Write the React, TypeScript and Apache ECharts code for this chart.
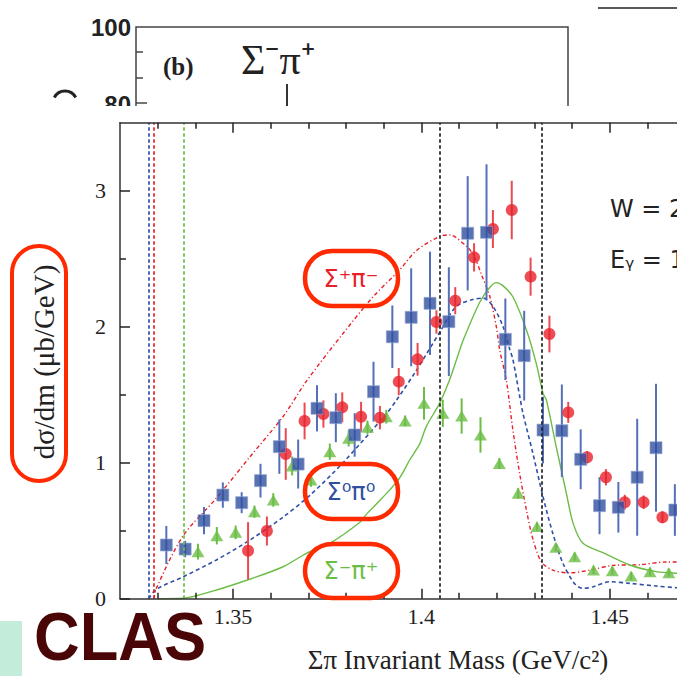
import React, { useEffect, useRef } from "react";
import * as echarts from "echarts";

// ---- axis ranges / ticks ----
const xMin = 1.32;
const xMax = 1.48;
const yMin = 0;
const yMax = 3.5;
const xMajorTicks = [1.35, 1.4, 1.45];
const xMinorTicks = [1.33, 1.34, 1.36, 1.37, 1.38, 1.39, 1.41, 1.42, 1.43, 1.44, 1.46, 1.47];
const yMajorTicks = [0, 1, 2, 3];
const yMinorTicks = [0.5, 1.5, 2.5];

// ---- vertical reference lines ----
const thresholdS0pi0 = 1.3276;
const thresholdSpPim = 1.329;
const thresholdSmPip = 1.337;
const kbarLines = [1.405, 1.432];

// ---- Σ0π0 data (blue squares) ----
const s0X = [1.3323, 1.3373, 1.3423, 1.3473, 1.3523, 1.3573, 1.3623, 1.3673, 1.3723, 1.3773, 1.3823, 1.3873, 1.3923, 1.3973, 1.4023, 1.4073, 1.4123, 1.4173, 1.4223, 1.4273, 1.4323, 1.4373, 1.4423, 1.4473, 1.4523, 1.4573, 1.4623, 1.4673];
const s0Y = [0.395, 0.365, 0.574, 0.762, 0.706, 0.868, 1.118, 0.99, 1.4, 1.331, 1.204, 1.522, 1.926, 2.069, 2.172, 2.037, 2.687, 2.694, 1.907, 1.787, 1.24, 1.235, 1.025, 0.684, 0.672, 0.893, 1.11, 0.652];
const s0Err = [0.14, 0.06, 0.1, 0.093, 0.077, 0.124, 0.2, 0.18, 0.17, 0.18, 0.16, 0.22, 0.23, 0.36, 0.38, 0.4, 0.42, 0.5, 0.3, 0.33, 0.245, 0.34, 0.22, 0.21, 0.186, 0.43, 0.47, 0.19];

// ---- Σ+π- data (red circles) ----
const spX = [1.354, 1.359, 1.364, 1.369, 1.374, 1.379, 1.384, 1.389, 1.394, 1.399, 1.404, 1.409, 1.414, 1.419, 1.424, 1.429, 1.434, 1.439, 1.444, 1.449, 1.454, 1.459, 1.464];
const spY = [0.353, 0.498, 1.064, 1.307, 1.358, 1.407, 1.338, 1.331, 1.596, 1.76, 2.035, 2.191, 2.51, 2.718, 2.858, 2.368, 1.946, 1.37, 1.04, 0.893, 0.709, 0.709, 0.598];
const spErr = [0.21, 0.107, 0.19, 0.135, 0.1, 0.11, 0.11, 0.086, 0.1, 0.12, 0.086, 0.1, 0.104, 0.14, 0.215, 0.14, 0.135, 0.077, 0.045, 0.06, 0.055, 0.05, 0.043];

// ---- Σ-π+ data (green triangles) ----
const smX = [1.3407, 1.3457, 1.3507, 1.3557, 1.3607, 1.3657, 1.3707, 1.3757, 1.3807, 1.3857, 1.3907, 1.3957, 1.4007, 1.4057, 1.4107, 1.4157, 1.4207, 1.4257, 1.4307, 1.4357, 1.4407, 1.4457, 1.4507, 1.4557, 1.4607, 1.4657];
const smY = [0.346, 0.463, 0.488, 0.64, 0.726, 0.976, 0.873, 1.081, 1.179, 1.26, 1.338, 1.307, 1.437, 1.363, 1.343, 1.204, 0.995, 0.775, 0.53, 0.378, 0.309, 0.211, 0.206, 0.167, 0.199, 0.191];
const smErr = [0.058, 0.064, 0.05, 0.045, 0.05, 0.07, 0.05, 0.06, 0.06, 0.05, 0.05, 0.04, 0.12, 0.1, 0.13, 0.13, 0.04, 0.04, 0.03, 0.03, 0.03, 0.03, 0.03, 0.03, 0.03, 0.03];

// ---- model curves ----
const spCurveX = [1.329, 1.3297, 1.3367, 1.3456, 1.3544, 1.3633, 1.3695, 1.3792, 1.3872, 1.3943, 1.3987, 1.4049, 1.4075, 1.412, 1.414, 1.416, 1.4182, 1.4199, 1.4208, 1.4226, 1.4243, 1.4261, 1.4279, 1.4296, 1.4319, 1.4349, 1.4394, 1.4447, 1.4509, 1.458, 1.4651, 1.48];
const spCurveY = [0, 0.08, 0.46, 0.74, 1.04, 1.34, 1.6, 1.95, 2.22, 2.42, 2.56, 2.665, 2.675, 2.59, 2.52, 2.38, 2.22, 2.0, 1.83, 1.6, 1.24, 0.92, 0.65, 0.44, 0.27, 0.21, 0.19, 0.21, 0.245, 0.25, 0.27, 0.27];

const s0CurveX = [1.3276, 1.3297, 1.3367, 1.3456, 1.3544, 1.3633, 1.3704, 1.3792, 1.3907, 1.3934, 1.3987, 1.4049, 1.4093, 1.4137, 1.4164, 1.419, 1.4217, 1.4235, 1.4243, 1.4261, 1.427, 1.4296, 1.4323, 1.4349, 1.4376, 1.4407, 1.4429, 1.4456, 1.45, 1.4553, 1.4624, 1.4678, 1.48];
const s0CurveY = [0, 0.07, 0.16, 0.285, 0.43, 0.6, 0.76, 1.0, 1.36, 1.46, 1.68, 1.96, 2.15, 2.2, 2.21, 2.15, 2.0, 1.83, 1.76, 1.49, 1.36, 1.07, 0.75, 0.48, 0.26, 0.11, 0.076, 0.088, 0.125, 0.113, 0.093, 0.081, 0.07];

const smCurveX = [1.33, 1.3367, 1.3456, 1.3544, 1.3633, 1.3695, 1.3757, 1.3836, 1.3854, 1.3889, 1.3916, 1.3943, 1.3969, 1.3996, 1.4013, 1.4049, 1.4075, 1.4093, 1.4111, 1.4155, 1.4182, 1.4199, 1.4217, 1.4243, 1.4279, 1.4305, 1.4323, 1.4332, 1.4358, 1.4385, 1.4403, 1.4429, 1.4482, 1.4553, 1.4624, 1.4678, 1.48];
const smCurveY = [0, 0.003, 0.064, 0.143, 0.235, 0.334, 0.407, 0.56, 0.62, 0.72, 0.8, 0.89, 1.02, 1.14, 1.265, 1.44, 1.61, 1.755, 1.9, 2.18, 2.29, 2.324, 2.3, 2.22, 1.976, 1.73, 1.51, 1.46, 1.118, 0.775, 0.554, 0.407, 0.338, 0.248, 0.199, 0.187, 0.17];

const BLUE = "#2f4f9f";
const BLUE_ERR = "#5570b8";
const RED = "#e8202a";
const RED_ERR = "#ea4a4f";
const GREEN = "#6cbd45";
const ANNOT = "#ff2a00";

const zip = (a: number[], b: number[]) => a.map((v, i) => [v, b[i]]);
const errData = (x: number[], y: number[], e: number[]) => x.map((v, i) => [v, y[i] - e[i], y[i] + e[i]]);

const errSeries = (x: number[], y: number[], e: number[], color: string) => ({
  type: "custom",
  xAxisIndex: 0,
  yAxisIndex: 0,
  z: 3,
  encode: { x: 0, y: [1, 2] },
  data: errData(x, y, e),
  renderItem: (params: any, api: any) => {
    const p1 = api.coord([api.value(0), api.value(1)]);
    const p2 = api.coord([api.value(0), api.value(2)]);
    return {
      type: "line",
      shape: { x1: p1[0], y1: p1[1], x2: p2[0], y2: p2[1] },
      style: { stroke: color, lineWidth: 2 },
    };
  },
});

const serif = "'Liberation Serif', 'Times New Roman', serif";
const sans = "'Liberation Sans', Arial, sans-serif";
const gothic = "'DejaVu Sans', sans-serif";

const vLine = (x: number, color: string) => ({
  xAxis: x,
  lineStyle: { color, type: [3.5, 2.5], width: 1.7 },
});

function xAxisCfg(position: string, ticks: number[], len: number, showLine: boolean, labels: boolean) {
  return {
    type: "value",
    position,
    min: xMin,
    max: xMax,
    z: 10,
    splitLine: { show: false },
    axisLine: { show: showLine, lineStyle: { color: "#333", width: 1.5 } },
    axisTick: { show: true, inside: true, length: len, customValues: ticks, lineStyle: { color: "#222", width: 1.5 } },
    axisLabel: labels
      ? {
          show: true,
          customValues: xMajorTicks,
          margin: 7,
          formatter: (v: number) => String(parseFloat(v.toFixed(2))),
          fontFamily: serif,
          fontSize: 22,
          color: "#222",
        }
      : { show: false },
  };
}

function yAxisCfg(ticks: number[], len: number, showLine: boolean, labels: boolean) {
  return {
    type: "value",
    position: "left",
    min: yMin,
    max: yMax,
    z: 10,
    splitLine: { show: false },
    axisLine: { show: showLine, lineStyle: { color: "#333", width: 1.5 } },
    axisTick: { show: true, inside: true, length: len, customValues: ticks, lineStyle: { color: "#222", width: 1.5 } },
    axisLabel: labels
      ? {
          show: true,
          customValues: yMajorTicks,
          margin: 14,
          formatter: (v: number) => String(v),
          fontFamily: serif,
          fontSize: 22,
          color: "#222",
        }
      : { show: false },
  };
}

export default function App() {
  const ref = useRef<HTMLDivElement>(null);
  useEffect(() => {
    if (!ref.current) return;
    const chart = echarts.init(ref.current, undefined, { renderer: "svg" });
    const option: any = {
      animation: false,
      backgroundColor: "#ffffff",
      grid: { left: 120, top: 122.7, width: 602.7, height: 476, containLabel: false, outerBoundsMode: "none" },
      xAxis: [
        xAxisCfg("bottom", xMajorTicks, 10, true, true),
        xAxisCfg("bottom", xMinorTicks, 6, false, false),
        xAxisCfg("top", xMajorTicks, 10, true, false),
        xAxisCfg("top", xMinorTicks, 6, false, false),
      ],
      yAxis: [yAxisCfg(yMajorTicks, 10, true, true), yAxisCfg(yMinorTicks, 6, false, false)],
      series: [
        {
          type: "line",
          xAxisIndex: 0,
          yAxisIndex: 0,
          z: 2,
          data: zip(spCurveX, spCurveY),
          showSymbol: false,
          smooth: 0.3,
          lineStyle: { color: RED, width: 1.4, type: [4, 2.5, 1.2, 2.5] },
          markLine: {
            silent: true,
            precision: 5,
            symbol: ["none", "none"],
            label: { show: false },
            data: [
              vLine(thresholdS0pi0, "#2f50b0"),
              vLine(thresholdSpPim, "#e8202a"),
              vLine(thresholdSmPip, "#6cbd45"),
              vLine(kbarLines[0], "#222"),
              vLine(kbarLines[1], "#222"),
            ],
          },
        },
        {
          type: "line",
          xAxisIndex: 0,
          yAxisIndex: 0,
          z: 2,
          data: zip(s0CurveX, s0CurveY),
          showSymbol: false,
          smooth: 0.3,
          lineStyle: { color: "#3050a8", width: 1.6, type: [4, 3] },
        },
        {
          type: "line",
          xAxisIndex: 0,
          yAxisIndex: 0,
          z: 2,
          data: zip(smCurveX, smCurveY),
          showSymbol: false,
          smooth: 0.3,
          lineStyle: { color: GREEN, width: 1.4 },
        },
        errSeries(smX, smY, smErr, GREEN),
        errSeries(spX, spY, spErr, RED_ERR),
        errSeries(s0X, s0Y, s0Err, BLUE_ERR),
        {
          type: "scatter",
          z: 4,
          symbol: "triangle",
          symbolSize: [13, 11],
          itemStyle: { color: GREEN },
          data: zip(smX, smY),
        },
        {
          type: "scatter",
          z: 4,
          symbol: "circle",
          symbolSize: 12,
          itemStyle: { color: RED },
          data: zip(spX, spY),
        },
        {
          type: "scatter",
          z: 4,
          symbol: "rect",
          symbolSize: 12,
          itemStyle: { color: BLUE, borderColor: "#8ea0d0", borderWidth: 0.8 },
          data: zip(s0X, s0Y),
        },
      ],
      graphic: [
        // upper (partially hidden) panel
        { type: "polyline", z: 0, shape: { points: [[136, 110], [136, 27], [568, 27], [568, 110]] }, style: { stroke: "#444", lineWidth: 1.5, fill: "none" } },
        { type: "line", z: 0, shape: { x1: 136, y1: 52, x2: 143, y2: 52 }, style: { stroke: "#444", lineWidth: 1.5 } },
        { type: "line", z: 0, shape: { x1: 136, y1: 78, x2: 143, y2: 78 }, style: { stroke: "#444", lineWidth: 1.5 } },
        { type: "line", z: 0, shape: { x1: 136, y1: 103, x2: 147, y2: 103 }, style: { stroke: "#444", lineWidth: 1.5 } },
        { type: "text", z: 0, style: { text: "100", x: 131, y: 27, align: "right", verticalAlign: "middle", textAlign: "right", textVerticalAlign: "middle", font: `bold 24px ${sans}`, fill: "#222" } },
        { type: "text", z: 0, style: { text: "80", x: 131, y: 104, align: "right", verticalAlign: "middle", textAlign: "right", textVerticalAlign: "middle", font: `bold 24px ${sans}`, fill: "#222" } },
        { type: "text", z: 0, style: { text: "(b)", x: 163, y: 66, align: "left", verticalAlign: "middle", textAlign: "left", textVerticalAlign: "middle", font: `bold 25px ${serif}`, fill: "#222" } },
        { type: "text", z: 0, style: { text: "Σ⁻π⁺", x: 241, y: 60, align: "left", verticalAlign: "middle", textAlign: "left", textVerticalAlign: "middle", font: `42px ${serif}`, fill: "#222" } },
        { type: "line", z: 0, shape: { x1: 287, y1: 84, x2: 287, y2: 110 }, style: { stroke: "#333", lineWidth: 2 } },
        { type: "arc", z: 0, shape: { cx: 65, cy: 103, r: 12, startAngle: Math.PI * 1.15, endAngle: Math.PI * 1.85, clockwise: true }, style: { stroke: "#222", lineWidth: 3, fill: "none" } },
        { type: "line", z: 0, shape: { x1: 598, y1: 8, x2: 677, y2: 8 }, style: { stroke: "#222", lineWidth: 1.5 } },
        // white sheet of the main panel
        { type: "rect", z: 1, shape: { x: 0, y: 106, width: 677, height: 570 }, style: { fill: "#ffffff" } },
        // y-axis title
        {
          type: "text",
          z: 20,
          x: 44,
          y: 362,
          rotation: Math.PI / 2,
          style: { text: "dσ/dm (μb/GeV)", x: 0, y: 0, align: "center", verticalAlign: "middle", textAlign: "center", textVerticalAlign: "middle", font: `29px ${serif}`, fill: "#222" },
        },
        { type: "rect", z: 30, shape: { x: 12, y: 246, width: 54, height: 235, r: 27 }, style: { fill: "none", stroke: ANNOT, lineWidth: 4 } },
        // x-axis title
        { type: "text", z: 20, style: { text: "Σπ Invariant Mass (GeV/c²)", x: 458, y: 660, align: "center", verticalAlign: "middle", textAlign: "center", textVerticalAlign: "middle", font: `27px ${serif}`, fill: "#222" } },
        // CLAS logo
        { type: "rect", z: 20, shape: { x: 0, y: 621, width: 22, height: 55 }, style: { fill: "#c4ecda" } },
        { type: "text", z: 25, x: 34, y: 637, scaleX: 0.93, style: { text: "CLAS", x: 0, y: 0, align: "left", verticalAlign: "middle", textAlign: "left", textVerticalAlign: "middle", font: `bold 68px ${sans}`, fill: "#4a0606" } },
        // kinematics text (cut off by the right edge, as in the figure)
        { type: "text", z: 20, style: { text: "W = 2", x: 610, y: 209, align: "left", verticalAlign: "middle", textAlign: "left", textVerticalAlign: "middle", font: `24px ${gothic}`, fill: "#222" } },
        { type: "text", z: 20, style: { text: "Eᵧ = 1", x: 610, y: 260, align: "left", verticalAlign: "middle", textAlign: "left", textVerticalAlign: "middle", font: `24px ${gothic}`, fill: "#222" } },
        // channel annotations
        { type: "rect", z: 30, shape: { x: 305, y: 251, width: 93, height: 55, r: 27 }, style: { fill: "none", stroke: ANNOT, lineWidth: 4.5 } },
        { type: "text", z: 30, style: { text: "Σ⁺π⁻", x: 351, y: 279, align: "center", verticalAlign: "middle", textAlign: "center", textVerticalAlign: "middle", font: `24px ${gothic}`, fill: RED } },
        { type: "rect", z: 30, shape: { x: 305, y: 464, width: 93, height: 55, r: 27 }, style: { fill: "none", stroke: ANNOT, lineWidth: 4.5 } },
        { type: "text", z: 30, style: { text: "Σ⁰π⁰", x: 351, y: 492, align: "center", verticalAlign: "middle", textAlign: "center", textVerticalAlign: "middle", font: `24px ${gothic}`, fill: "#2f4f9f" } },
        { type: "rect", z: 30, shape: { x: 305, y: 544, width: 93, height: 54, r: 27 }, style: { fill: "none", stroke: ANNOT, lineWidth: 4.5 } },
        { type: "text", z: 30, style: { text: "Σ⁻π⁺", x: 351, y: 571, align: "center", verticalAlign: "middle", textAlign: "center", textVerticalAlign: "middle", font: `24px ${gothic}`, fill: GREEN } },
      ],
    };
    chart.setOption(option);
    return () => chart.dispose();
  }, []);
  return (
    <div
      ref={ref}
      style={{ position: "absolute", left: 0, top: 0, width: 677, height: 676, overflow: "hidden", background: "#fff" }}
    />
  );
}
